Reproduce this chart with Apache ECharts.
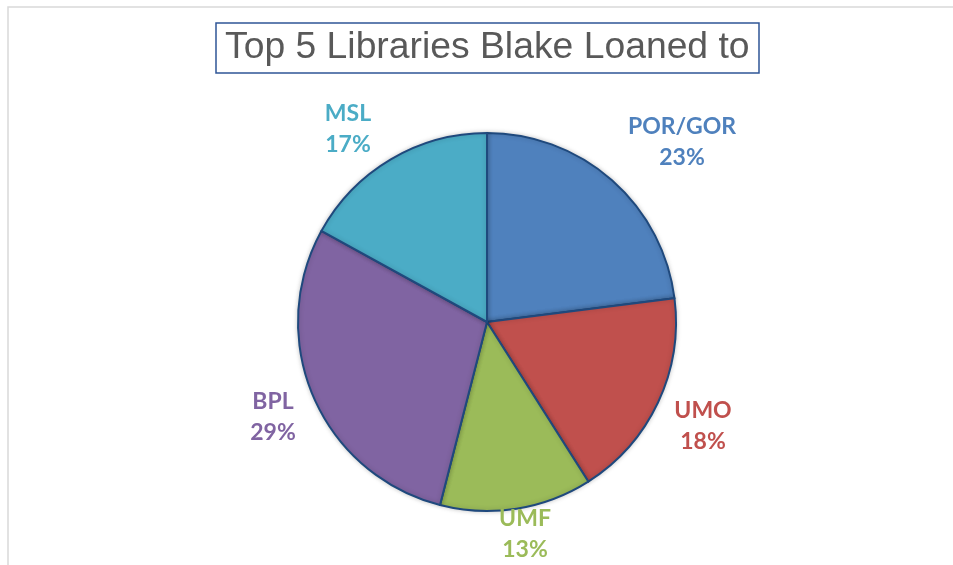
<!DOCTYPE html>
<html>
<head>
<meta charset="utf-8">
<title>Top 5 Libraries Blake Loaned to</title>
<script src="https://cdn.jsdelivr.net/npm/echarts@6/dist/echarts.min.js"></script>
<style>
  html, body { margin: 0; padding: 0; background: #fff; }
  #chart { width: 953px; height: 565px; }
</style>
</head>
<body>
<div id="chart"></div>
<script>
// data
const libraries = ['POR/GOR', 'UMO', 'UMF', 'BPL', 'MSL']
const shares = [23, 18, 13, 29, 17]
const sliceColors = ['#4F81BD', '#C0504D', '#9BBB59', '#8064A2', '#4BACC6']

// label centre offsets from the pie centre (Excel best-fit placement)
const labelOffsets = [[195, -180], [216, 104], [38, 212], [-214, 95], [-139, -193]]
const pieCenter = [487, 322]

const chart = echarts.init(document.getElementById('chart'))

chart.setOption({
  animation: false,
  title: {
    text: 'Top 5 Libraries Blake Loaned to',
    left: 216,
    top: 23,
    padding: [4, 10, 4, 9],
    borderColor: '#2F5597',
    borderWidth: 1.5,
    textStyle: {
      fontFamily: 'Liberation Sans',
      fontWeight: 'normal',
      fontSize: 37.3,
      lineHeight: 42,
      color: '#595959'
    }
  },
  graphic: [{
    // chart area frame (runs off the right and bottom of the picture)
    type: 'rect',
    silent: true,
    shape: { x: 8, y: 7, width: 1200, height: 800 },
    style: { fill: 'none', stroke: '#D9D9D9', lineWidth: 1.5 }
  }],
  series: [{
    type: 'pie',
    center: pieCenter,
    radius: 189,
    startAngle: 90,
    clockwise: true,
    data: libraries.map((name, i) => ({
      name: name,
      value: shares[i],
      itemStyle: { color: sliceColors[i] },
      label: { color: sliceColors[i] }
    })),
    itemStyle: {
      borderColor: '#1F497D',
      borderWidth: 2,
      shadowBlur: 5,
      shadowColor: 'rgba(0,0,0,0.2)'
    },
    label: {
      show: true,
      position: 'outside',
      formatter: '{b}\n{d}%',
      fontFamily: 'Lato',
      fontWeight: 'bold',
      fontSize: 23,
      lineHeight: 31,
      align: 'center'
    },
    labelLine: { show: false },
    labelLayout: function(params) {
      const off = labelOffsets[params.dataIndex]
      return {
        x: pieCenter[0] + off[0],
        y: pieCenter[1] + off[1],
        align: 'center',
        verticalAlign: 'middle'
      }
    },
    emphasis: { disabled: true }
  }]
})
</script>
</body>
</html>
